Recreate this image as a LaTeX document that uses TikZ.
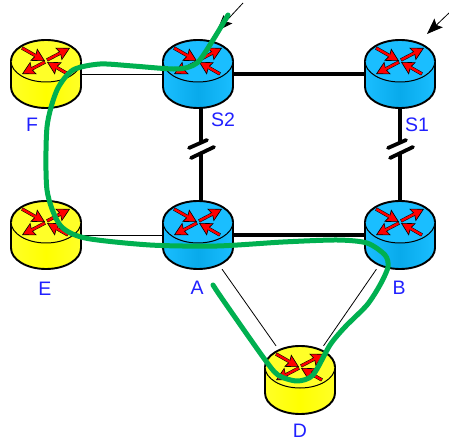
\documentclass[tikz,border=0pt]{standalone}
\usepackage{fontspec}
\setmainfont{Liberation Sans}
\usetikzlibrary{arrows.meta}
\definecolor{lblue}{RGB}{32,32,255}
\definecolor{cgreen}{RGB}{0,176,80}
\definecolor{cblueA}{RGB}{26,190,255}
\definecolor{cblueB}{RGB}{8,170,235}
\definecolor{cyelA}{RGB}{255,255,40}
\definecolor{cyelB}{RGB}{255,255,0}
\tikzset{
  routerspot/.style={minimum width=70pt,minimum height=68pt,inner sep=0pt},
  thicklink/.style={line width=3.8pt},
  thinlink/.style={line width=0.8pt},
  routerlabel/.style={text=lblue,font=\fontsize{19.5}{22}\selectfont,inner sep=0pt},
  slash/.style={line width=3.8pt,line cap=round},
  greenpath/.style={cgreen,line width=5pt,line cap=round,line join=round},
  pointer/.style={line width=0.8pt,-{Stealth[inset=3pt,length=16pt,width=12pt]}},
  lidarrow/.style={line width=3.4pt,shorten >=9pt},
  lidshaft/.style={red,line width=2.4pt,shorten >=8pt,shorten <=0.4pt},
  lidtip/.style={line width=0.6pt,-{Stealth[inset=2pt,length=13pt,width=14pt,fill=red,line width=0.6pt]}},
}
% one router icon: #1 node name, #2 side colour, #3 middle colour
\newcommand{\routericon}[3]{
  \begin{scope}[shift={(#1.center)}]
    \path [left color=#2,right color=#2,middle color=#3] (-35,-13) -- (-35,13) arc[x radius=35,y radius=21,start angle=180,end angle=0] -- (35,-13) -- cycle ;
    \draw [line width=1.9pt] (-35,-13) -- (-35,13) arc[x radius=35,y radius=21,start angle=180,end angle=0] -- (35,-13) ;
    \draw [fill=#2,line width=1pt] (0,-13) ellipse [x radius=35,y radius=21] ;
    \draw [line width=1.9pt] (-35,-13) arc[x radius=35,y radius=21,start angle=180,end angle=360] ;
    % arrows on the lid
    \foreach \xa/\ya/\xb/\yb in {-24/-26/-1/-13, 1/-14/24/-26, -1/-12/-24/0, 22/0/1/-12} {
      \draw [lidarrow] (\xa,\ya) -- (\xb,\yb) ;
      \draw [lidtip] (\xa,\ya) -- (\xb,\yb) ;
      \draw [lidshaft] (\xa,\ya) -- (\xb,\yb) ;
    }
  \end{scope}
}
\begin{document}
\begin{tikzpicture}[x=1pt,y=1pt,yscale=-1,xscale=1]
\useasboundingbox (0,0) rectangle (449,443);

% Router positions
\node [routerspot] (F) at (46,74) {};
\node [routerspot] (S2) at (198,74) {};
\node [routerspot] (S1) at (400,74) {};
\node [routerspot] (E) at (46,235) {};
\node [routerspot] (A) at (198,235) {};
\node [routerspot] (B) at (400,235) {};
\node [routerspot] (D) at (300,380) {};

% Links
\draw [thinlink] (F) -- (S2);
\draw [thinlink] (E) -- (A);
\draw [thinlink] (A) -- (D);
\draw [thinlink] (B) -- (D);
\draw [thicklink] (S2) -- (S1);
\draw [thicklink] (A) -- (B);
\draw [thicklink] ([xshift=3pt]S2.center) -- ([xshift=3pt]A.center);
\draw [thicklink] (S1) -- (B);

% Breaks on the two vertical links
\foreach \bx in {201,400} {
  \fill [white] (\bx-4,143) -- (\bx+4,143) -- (\bx+4,153) -- (\bx-4,153) -- cycle ;
  \draw [slash] (\bx-12,148) -- (\bx+6,140) ;
  \draw [slash] (\bx-10,158) -- (\bx+13,147) ;
}

% Routers
\routericon{F}{cyelA}{cyelB}
\routericon{E}{cyelA}{cyelB}
\routericon{D}{cyelA}{cyelB}
\routericon{S2}{cblueA}{cblueB}
\routericon{S1}{cblueA}{cblueB}
\routericon{A}{cblueA}{cblueB}
\routericon{B}{cblueA}{cblueB}

% Entry pointers
\coordinate (inS2) at (243,3);
\coordinate (tipS2) at (217,31);
\coordinate (inS1) at (449,13);
\coordinate (tipS1) at (427,34);
\draw [pointer] (inS2) -- (tipS2);
\draw [pointer] (inS1) -- (tipS1);

% Green route
\draw [greenpath] plot [smooth,tension=0.45] coordinates {(213,285) (223,300) (263,357) (278,375) (297,381) (313,375) (330,345) (345,327) (367,305) (380,285) (388,267) (385,255) (367,243) (337,240) (283,242) (217,246) (150,245) (85,238) (60,225) (47,190) (47,127) (57,90) (73,70) (100,64) (133,66) (177,69) (197,63) (213,40) (228,15)};

% Text Node
\node [routerlabel] (lF) at (32,125) {F};
\node [routerlabel] (lS2) at (223,120) {S2};
\node [routerlabel] (lS1) at (417,125) {S1};
\node [routerlabel] (lE) at (45,289) {E};
\node [routerlabel] (lA) at (197,288) {A};
\node [routerlabel] (lB) at (399,288) {B};
\node [routerlabel] (lD) at (300,431) {D};
\end{tikzpicture}
\end{document}
